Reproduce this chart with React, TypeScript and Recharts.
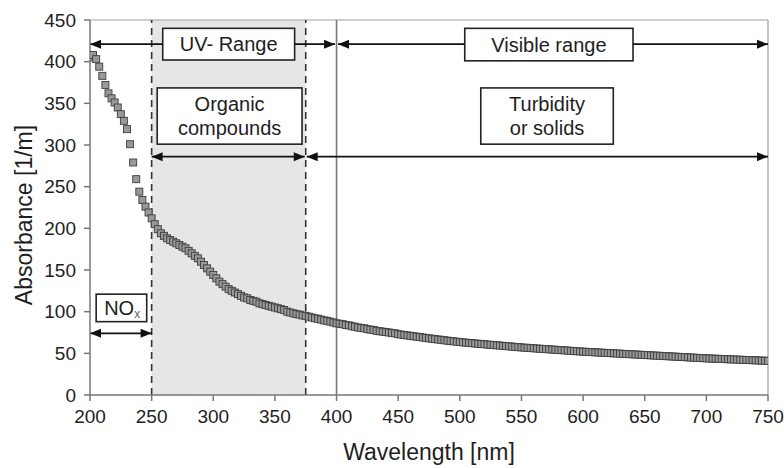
import React from 'react';
import {
  ScatterChart,
  Scatter,
  XAxis,
  YAxis,
  ReferenceArea,
  ReferenceLine,
} from 'recharts';

// ---- data ----
const wavelengths: number[] = [
  200, 202.5, 205, 207.5, 210, 212.5, 215, 217.5, 220, 222.5, 225, 227.5, 230, 232.5, 235, 237.5, 240, 242.5, 245, 247.5,
  250, 252.5, 255, 257.5, 260, 262.5, 265, 267.5, 270, 272.5, 275, 277.5, 280, 282.5, 285, 287.5, 290, 292.5, 295, 297.5,
  300, 302.5, 305, 307.5, 310, 312.5, 315, 317.5, 320, 322.5, 325, 327.5, 330, 332.5, 335, 337.5, 340, 342.5, 345, 347.5,
  350, 352.5, 355, 357.5, 360, 362.5, 365, 367.5, 370, 372.5, 375, 377.5, 380, 382.5, 385, 387.5, 390, 392.5, 395, 397.5,
  400, 402.5, 405, 407.5, 410, 412.5, 415, 417.5, 420, 422.5, 425, 427.5, 430, 432.5, 435, 437.5, 440, 442.5, 445, 447.5,
  450, 452.5, 455, 457.5, 460, 462.5, 465, 467.5, 470, 472.5, 475, 477.5, 480, 482.5, 485, 487.5, 490, 492.5, 495, 497.5,
  500, 502.5, 505, 507.5, 510, 512.5, 515, 517.5, 520, 522.5, 525, 527.5, 530, 532.5, 535, 537.5, 540, 542.5, 545, 547.5,
  550, 552.5, 555, 557.5, 560, 562.5, 565, 567.5, 570, 572.5, 575, 577.5, 580, 582.5, 585, 587.5, 590, 592.5, 595, 597.5,
  600, 602.5, 605, 607.5, 610, 612.5, 615, 617.5, 620, 622.5, 625, 627.5, 630, 632.5, 635, 637.5, 640, 642.5, 645, 647.5,
  650, 652.5, 655, 657.5, 660, 662.5, 665, 667.5, 670, 672.5, 675, 677.5, 680, 682.5, 685, 687.5, 690, 692.5, 695, 697.5,
  700, 702.5, 705, 707.5, 710, 712.5, 715, 717.5, 720, 722.5, 725, 727.5, 730, 732.5, 735, 737.5, 740, 742.5, 745, 747.5,
  750,
];

const absorbance: number[] = [
  405, 408, 403, 394, 383, 372, 362, 356, 351, 345, 337, 329, 319, 301, 279, 259, 244, 234, 226, 219,
  212, 205, 199, 194, 191, 188, 186, 184, 182, 180, 178, 176, 173, 170, 167, 164, 160, 156, 152, 148,
  144, 140, 136, 133, 130, 127, 125, 123, 121, 119, 117, 116, 114, 113, 112, 110, 109, 108, 107, 106,
  105, 104, 103, 102, 100, 99, 98, 97, 96.5, 95.5, 95, 94, 93, 92, 91.5, 90.5, 89.5, 89, 88, 87,
  86, 85.5, 85, 84, 83.5, 82.5, 82, 81, 80.5, 80, 79, 78.5, 78, 77, 76.5, 76, 75.5, 75, 74.5, 74,
  73, 72.5, 72, 71.5, 71, 70.5, 70, 69.5, 69, 68.5, 68, 67.5, 67, 66.6, 66.2, 65.7, 65.2, 64.8, 64.4, 63.9,
  63.5, 63.2, 62.8, 62.5, 62.2, 61.8, 61.5, 61.2, 60.9, 60.5, 60.2, 59.9, 59.6, 59.3, 59.0, 58.7, 58.4, 58.0, 57.7, 57.4,
  57.1, 56.8, 56.6, 56.3, 56.0, 55.8, 55.5, 55.3, 55.0, 54.8, 54.5, 54.3, 54.0, 53.8, 53.5, 53.3, 53.0, 52.8, 52.5, 52.3,
  52.0, 51.8, 51.6, 51.4, 51.2, 51.0, 50.8, 50.6, 50.4, 50.2, 50.0, 49.8, 49.6, 49.4, 49.2, 49.0, 48.8, 48.6, 48.4, 48.2,
  48.0, 47.8, 47.6, 47.4, 47.2, 47.0, 46.8, 46.6, 46.4, 46.2, 46.0, 45.8, 45.6, 45.4, 45.2, 45.0, 44.8, 44.6, 44.4, 44.2,
  44.0, 43.8, 43.7, 43.5, 43.4, 43.2, 43.1, 42.9, 42.8, 42.6, 42.5, 42.3, 42.2, 42.0, 41.9, 41.7, 41.6, 41.4, 41.3, 41.1,
  41.0,
];

const xTicks: number[] = [200, 250, 300, 350, 400, 450, 500, 550, 600, 650, 700, 750];
const yTicks: number[] = [0, 50, 100, 150, 200, 250, 300, 350, 400, 450];

// region boundaries (wavelength, nm)
const uvStart = 200;
const organicStart = 250;
const organicEnd = 375;
const visibleStart = 400;
const rangeEnd = 750;

// annotation levels (absorbance units)
const rangeArrowLevel = 421;
const compoundArrowLevel = 286;
const noxArrowLevel = 74;

// label boxes: [x1, x2, y1, y2] in data units
const uvBox = [259, 366, 402, 440];
const visBox = [504, 640.5, 401, 440];
const orgBox = [254.5, 372, 301, 368.5];
const turbBox = [517, 624.5, 301, 368.5];
const noxBox = [205, 246, 88, 121];

const data = wavelengths.map((w, i) => ({ x: w, y: absorbance[i] }));

const FONT = '"Liberation Sans", Arial, Helvetica, sans-serif';
const TEXT = '#1e1e1e';

const squareShape = (p: any) => (
  <rect
    x={p.cx - 3.5}
    y={p.cy - 3.5}
    width={7}
    height={7}
    fill="#999"
    stroke="#3e3e3e"
    strokeWidth={0.9}
  />
);

const arrowShape = (startHead: boolean, endHead: boolean) => (p: any) => {
  const { x1, y1, x2, y2 } = p;
  const L = 11;
  const W = 4.5;
  return (
    <g>
      <line x1={x1} y1={y1} x2={x2} y2={y2} stroke="#111" strokeWidth={1.6} />
      {startHead && (
        <polygon points={`${x1},${y1} ${x1 + L},${y1 - W} ${x1 + L},${y1 + W}`} fill="#111" />
      )}
      {endHead && (
        <polygon points={`${x2},${y2} ${x2 - L},${y2 - W} ${x2 - L},${y2 + W}`} fill="#111" />
      )}
    </g>
  );
};

const boxShape = (lines: string[]) => (p: any) => {
  const cx = p.x + p.width / 2;
  const cy = p.y + p.height / 2;
  return (
    <g>
      <rect x={p.x} y={p.y} width={p.width} height={p.height} fill="#fff" stroke="#222" strokeWidth={1.6} />
      {lines.map((t, i) => (
        <text
          key={i}
          x={cx}
          y={cy + (i - (lines.length - 1) / 2) * 24}
          textAnchor="middle"
          dominantBaseline="central"
          fontSize={20}
          fontFamily={FONT}
          fill={TEXT}
        >
          {t}
        </text>
      ))}
    </g>
  );
};

const noxShape = (p: any) => (
  <g>
    <rect x={p.x} y={p.y} width={p.width} height={p.height} fill="#fff" stroke="#222" strokeWidth={1.6} />
    <text
      x={p.x + 8}
      y={p.y + p.height / 2}
      dominantBaseline="central"
      fontSize={20}
      fontFamily={FONT}
      fill={TEXT}
    >
      NO
      <tspan dy={6} fontSize={12} fill="#666">x</tspan>
    </text>
  </g>
);

export default function App() {
  return (
    <div style={{ width: 784, height: 468, background: '#fff' }}>
      <style>{'body{margin:0;background:#fff;}'}</style>
      <ScatterChart width={784} height={468} margin={{ top: 20, right: 16, bottom: 0, left: 0 }}>
        <ReferenceArea
          x1={organicStart}
          x2={organicEnd}
          y1={0}
          y2={450}
          fill="#e6e6e6"
          fillOpacity={1}
          stroke="none"
        />
        <XAxis
          type="number"
          dataKey="x"
          domain={[200, 750]}
          ticks={xTicks}
          allowDataOverflow
          height={73}
          stroke="#777"
          strokeWidth={1.5}
          tickSize={6}
          tickMargin={9}
          tick={{ fill: TEXT, fontSize: 19, fontFamily: FONT }}
          label={{
            content: () => (
              <text x={429} y={452} textAnchor="middle" dominantBaseline="central" fontSize={23} fontFamily={FONT} fill={TEXT}>
                Wavelength [nm]
              </text>
            ),
          }}
        />
        <YAxis
          type="number"
          dataKey="y"
          domain={[0, 450]}
          ticks={yTicks}
          allowDataOverflow
          width={90}
          stroke="#777"
          strokeWidth={1.5}
          tickSize={6}
          tickMargin={8}
          tick={{ fill: TEXT, fontSize: 19, fontFamily: FONT }}
          label={{
            content: () => (
              <text
                x={24}
                y={215}
                transform="rotate(-90 24 215)"
                textAnchor="middle"
                dominantBaseline="central"
                fontSize={23}
                fontFamily={FONT}
                fill={TEXT}
              >
                Absorbance [1/m]
              </text>
            ),
          }}
        />
        <ReferenceLine y={450} stroke="#a0a0a0" strokeWidth={1.2} />
        <ReferenceLine x={rangeEnd} stroke="#a0a0a0" strokeWidth={1.2} />
        <ReferenceLine x={organicStart} stroke="#333" strokeWidth={1.6} strokeDasharray="7 5" />
        <ReferenceLine x={organicEnd} stroke="#333" strokeWidth={1.6} strokeDasharray="7 5" />
        <ReferenceLine x={visibleStart} stroke="#7a7a7a" strokeWidth={1.6} />

        <Scatter data={data} isAnimationActive={false} shape={squareShape} />

        {/* UV range arrow, interrupted by its label box */}
        <ReferenceLine
          segment={[{ x: uvStart, y: rangeArrowLevel }, { x: uvBox[0], y: rangeArrowLevel }]}
          shape={arrowShape(true, false)}
        />
        <ReferenceLine
          segment={[{ x: uvBox[1], y: rangeArrowLevel }, { x: visibleStart - 1.2, y: rangeArrowLevel }]}
          shape={arrowShape(false, true)}
        />
        {/* Visible range arrow */}
        <ReferenceLine
          segment={[{ x: visibleStart + 1.2, y: rangeArrowLevel }, { x: visBox[0], y: rangeArrowLevel }]}
          shape={arrowShape(true, false)}
        />
        <ReferenceLine
          segment={[{ x: visBox[1], y: rangeArrowLevel }, { x: rangeEnd, y: rangeArrowLevel }]}
          shape={arrowShape(false, true)}
        />
        {/* Organic compounds and turbidity arrows */}
        <ReferenceLine
          segment={[{ x: organicStart, y: compoundArrowLevel }, { x: organicEnd - 0.8, y: compoundArrowLevel }]}
          shape={arrowShape(true, true)}
        />
        <ReferenceLine
          segment={[{ x: organicEnd + 0.8, y: compoundArrowLevel }, { x: rangeEnd, y: compoundArrowLevel }]}
          shape={arrowShape(true, true)}
        />
        {/* NOx arrow */}
        <ReferenceLine
          segment={[{ x: uvStart, y: noxArrowLevel }, { x: organicStart, y: noxArrowLevel }]}
          shape={arrowShape(true, true)}
        />

        <ReferenceArea x1={uvBox[0]} x2={uvBox[1]} y1={uvBox[2]} y2={uvBox[3]} shape={boxShape(['UV- Range'])} />
        <ReferenceArea x1={visBox[0]} x2={visBox[1]} y1={visBox[2]} y2={visBox[3]} shape={boxShape(['Visible range'])} />
        <ReferenceArea x1={orgBox[0]} x2={orgBox[1]} y1={orgBox[2]} y2={orgBox[3]} shape={boxShape(['Organic', 'compounds'])} />
        <ReferenceArea x1={turbBox[0]} x2={turbBox[1]} y1={turbBox[2]} y2={turbBox[3]} shape={boxShape(['Turbidity', 'or solids'])} />
        <ReferenceArea x1={noxBox[0]} x2={noxBox[1]} y1={noxBox[2]} y2={noxBox[3]} shape={noxShape} />
      </ScatterChart>
    </div>
  );
}
